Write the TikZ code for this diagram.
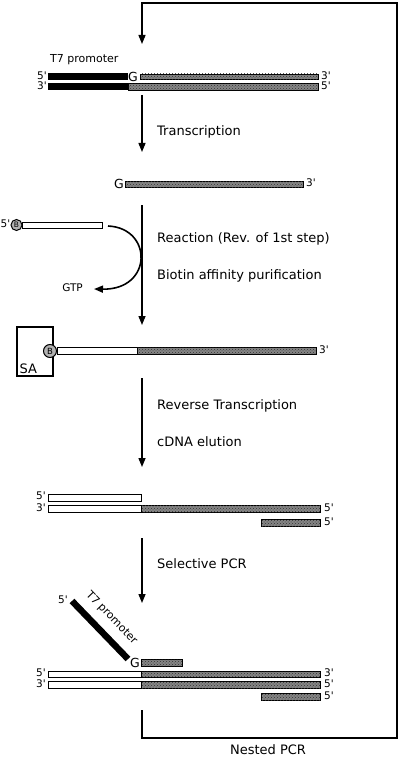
\documentclass[tikz,border=0pt]{standalone}
\usepackage{fontspec}
\setmainfont{DejaVu Sans}
\usetikzlibrary{arrows.meta,patterns}
\newcommand{\qsg}{\textquotesingle}
\begin{document}
\begin{tikzpicture}[x=1pt,y=-1pt,
  steplbl/.style={anchor=mid west,inner sep=0pt,font=\fontsize{13}{15}\selectfont},
  endlbl/.style={inner sep=0pt,font=\fontsize{10.5}{12}\selectfont},
  promlbl/.style={inner sep=0pt,font=\fontsize{11}{13}\selectfont},
  glbl/.style={inner sep=0pt,font=\fontsize{12.5}{14}\selectfont},
  rna/.style={draw=black,line width=0.7pt,fill=black!48,postaction={pattern=crosshatch dots,pattern color=black!80}},
  dna/.style={draw=black,line width=0.7pt,fill=white},
  prom/.style={fill=black},
  flow/.style={line width=1.4pt,-{Triangle[length=9pt,width=7pt]}},
  biotin/.style={draw=black,line width=1pt,fill=black!30}
]
\useasboundingbox (0,0) rectangle (400,762);

% ---- nested PCR loop ----
\coordinate (L0) at (142,710);
\coordinate (L1) at (142,738);
\coordinate (L2) at (397,738);
\coordinate (L3) at (397,3);
\coordinate (L4) at (142,3);
\coordinate (L5) at (142,44);
\draw[flow,line join=miter] (L0) -- (L1) -- (L2) -- (L3) -- (L4) -- (L5);
\node[steplbl,anchor=mid] (nested) at (268,752) {Nested PCR};

% ---- row 1: template ----
\node[promlbl,anchor=mid west] (t7a) at (50,60) {T7 promoter};
\fill[prom] (48,73) rectangle (128,80);
\node[glbl] (g1) at (133,76.5) {G};
\draw[rna] (140,74) rectangle (318,79.5);
\node[endlbl,anchor=mid east] (r1l) at (47,76.5) {5\qsg};
\node[endlbl,anchor=mid west] (r1r) at (321,76.5) {3\qsg};
\fill[prom] (48,83.5) rectangle (128,90.5);
\draw[rna] (128,83.5) rectangle (318,90.5);
\node[endlbl,anchor=mid east] (r2l) at (47,87) {3\qsg};
\node[endlbl,anchor=mid west] (r2r) at (321,87) {5\qsg};

% ---- transcription ----
\coordinate (a1s) at (142,95);
\coordinate (a1e) at (142,152);
\draw[flow] (a1s) -- (a1e);
\node[steplbl] (s1) at (157,133) {Transcription};

% ---- row 3: RNA ----
\node[glbl] (g3) at (119,183.5) {G};
\draw[rna] (125,181) rectangle (303,187);
\node[endlbl,anchor=mid west] (r3r) at (306,184) {3\qsg};

% ---- reaction ----
\node[endlbl,anchor=mid east] (bl) at (10.5,225) {5\qsg};
\draw[dna] (22,222) rectangle (102,228);
\draw[biotin] (16.5,225) circle (5.5);
\node[inner sep=0pt,font=\fontsize{7.5}{8}\selectfont] (b1) at (16.5,225) {B};
\coordinate (c1) at (108,226);
\coordinate (c2) at (94,289);
\node[endlbl,anchor=mid east] (gtp) at (83,288.5) {GTP};
\draw[flow,line width=1.6pt] (c1) .. controls (153,228) and (153,290) .. (c2);
\coordinate (a2s) at (142,205);
\coordinate (a2e) at (142,325);
\draw[flow] (a2s) -- (a2e);
\node[steplbl] (s2) at (157,240) {Reaction (Rev. of 1st step)};
\node[steplbl] (s3) at (157,277) {Biotin affinity purification};

% ---- row 4: bound to SA ----
\draw[line width=1.3pt] (17,327) rectangle (53,376);
\node[inner sep=0pt,anchor=base west,font=\fontsize{13}{15}\selectfont] (sa) at (19.5,373) {SA};
\draw[dna] (57,347.5) rectangle (137,354);
\draw[rna] (137,347.5) rectangle (316,354);
\draw[biotin] (50,351) circle (6.5);
\node[inner sep=0pt,font=\fontsize{8.5}{9}\selectfont] (b2) at (50,351) {B};
\node[endlbl,anchor=mid west] (r4r) at (319,351) {3\qsg};

% ---- reverse transcription ----
\coordinate (a3s) at (142,378);
\coordinate (a3e) at (142,467);
\draw[flow] (a3s) -- (a3e);
\node[steplbl] (s4) at (157,407) {Reverse Transcription};
\node[steplbl] (s5) at (157,444) {cDNA elution};

% ---- row 5: cDNA ----
\draw[dna] (48,494) rectangle (141.5,501);
\node[endlbl,anchor=mid east] (r5a) at (46,497) {5\qsg};
\draw[dna] (48,505.5) rectangle (141.5,512.5);
\draw[rna] (141.5,505.5) rectangle (320,512.5);
\node[endlbl,anchor=mid east] (r5b) at (46,509) {3\qsg};
\node[endlbl,anchor=mid west] (r5c) at (324,509) {5\qsg};
\draw[rna] (261,519.5) rectangle (320,526);
\node[endlbl,anchor=mid west] (r5d) at (324,523) {5\qsg};

% ---- selective PCR ----
\coordinate (a4s) at (142,538);
\coordinate (a4e) at (142,603);
\draw[flow] (a4s) -- (a4e);
\node[steplbl] (s6) at (157,566) {Selective PCR};

% ---- row 6 ----
\coordinate (p1) at (72,601);
\coordinate (p2) at (128,659);
\draw[line width=6.5pt] (p1) -- (p2);
\node[endlbl,anchor=mid east] (p5) at (68,601) {5\qsg};
\node[promlbl,rotate=-46] (t7b) at (111.5,618) {T7 promoter};
\node[glbl] (g6) at (135,663) {G};
\draw[rna] (141.5,659.5) rectangle (182.5,666);
\draw[dna] (48,671) rectangle (141.5,677.5);
\draw[rna] (141.5,671) rectangle (320,677.5);
\node[endlbl,anchor=mid east] (r6a) at (46,674) {5\qsg};
\node[endlbl,anchor=mid west] (r6b) at (324,674) {3\qsg};
\draw[dna] (48,681.5) rectangle (141.5,688.5);
\draw[rna] (141.5,681.5) rectangle (320,688.5);
\node[endlbl,anchor=mid east] (r6c) at (46,685) {3\qsg};
\node[endlbl,anchor=mid west] (r6d) at (324,685) {5\qsg};
\draw[rna] (261,693.5) rectangle (320,700);
\node[endlbl,anchor=mid west] (r6e) at (324,697) {5\qsg};
\end{tikzpicture}
\end{document}
